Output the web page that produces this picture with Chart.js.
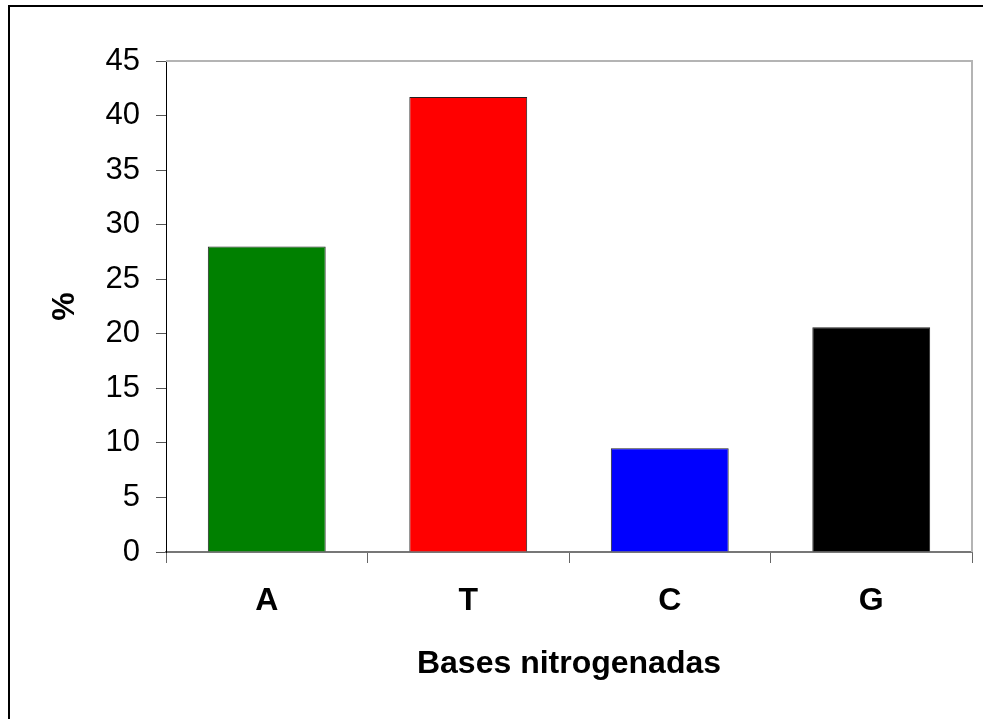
<!DOCTYPE html>
<html>
<head>
<meta charset="utf-8">
<title>Bases nitrogenadas</title>
<script src="https://cdn.jsdelivr.net/npm/chart.js@4/dist/chart.umd.min.js"></script>
<style>
  html, body { margin: 0; padding: 0; background: #fff; overflow: hidden; }
  #wrap { position: relative; width: 983px; height: 719px; }
  #frame {
    position: absolute; left: 8px; top: 5px; width: 1000px; height: 800px;
    border-left: 2px solid #000; border-top: 2px solid #000; pointer-events: none;
  }
  canvas { position: absolute; left: 0; top: 0; }
</style>
</head>
<body>
<div id="wrap">
  <canvas id="chart" width="983" height="719"></canvas>
  <div id="frame"></div>
</div>
<script>
// Nitrogenous base composition (%)
const bases = ['A', 'T', 'C', 'G'];
const percentages = [28.0, 41.7, 9.5, 20.6];
const barColors = ['#008000', '#ff0000', '#0000ff', '#000000'];
const yTicks = { min: 0, max: 45, step: 5 };

const FONT = "'Liberation Sans', Arial, sans-serif";

// Grey frame along the top and right of the plot area
const plotFrame = {
  id: 'plotFrame',
  afterDatasetsDraw(chart) {
    const { ctx, chartArea: a } = chart;
    ctx.save();
    ctx.strokeStyle = '#b4b4b4';
    ctx.lineWidth = 2;
    ctx.beginPath();
    ctx.moveTo(a.left, a.top);
    ctx.lineTo(a.right, a.top);
    ctx.lineTo(a.right, a.bottom);
    ctx.stroke();
    ctx.restore();
  }
};

new Chart(document.getElementById('chart'), {
  type: 'bar',
  data: {
    labels: bases,
    datasets: [{
      data: percentages,
      backgroundColor: barColors,
      borderColor: '#222',
      borderWidth: 1,
      barPercentage: 0.585,
      categoryPercentage: 1.0
    }]
  },
  options: {
    responsive: false,
    devicePixelRatio: 1,
    animation: false,
    layout: { padding: { left: 0, top: 61, right: 11, bottom: 0 } },
    plugins: { legend: { display: false }, tooltip: { enabled: false } },
    scales: {
      x: {
        afterFit(scale) { scale.height = 167; },
        grid: {
          display: true,
          offset: true,
          drawOnChartArea: false,
          drawTicks: true,
          tickLength: 11,
          tickColor: '#666',
          tickWidth: 1
        },
        border: { display: true, color: '#777', width: 2 },
        ticks: {
          color: '#000',
          padding: 19,
          font: { family: FONT, size: 32, weight: 'bold' }
        },
        title: {
          display: true,
          text: 'Bases nitrogenadas',
          color: '#000',
          font: { family: FONT, size: 32, weight: 'bold' },
          padding: { top: 0, bottom: 36 }
        }
      },
      y: {
        min: yTicks.min,
        max: yTicks.max,
        afterFit(scale) { scale.width = 166; },
        grid: {
          display: true,
          drawOnChartArea: false,
          drawTicks: true,
          tickLength: 10,
          tickColor: '#555',
          tickWidth: 1
        },
        border: { display: true, color: '#000', width: 1 },
        ticks: {
          stepSize: yTicks.step,
          color: '#000',
          padding: 16,
          font: { family: FONT, size: 31 }
        },
        title: {
          display: true,
          text: '%',
          color: '#000',
          font: { family: FONT, size: 32, weight: 'bold' },
          padding: { top: 46, bottom: 0 }
        }
      }
    }
  },
  plugins: [plotFrame]
});
</script>
</body>
</html>
